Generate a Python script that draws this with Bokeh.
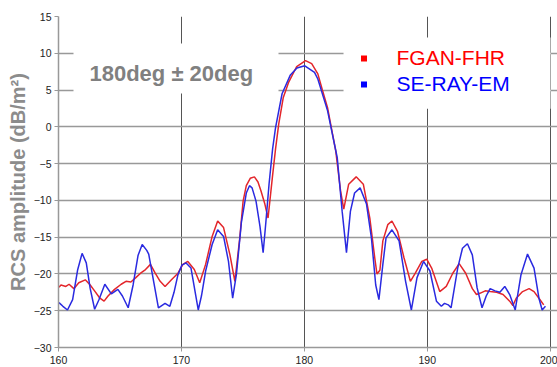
from bokeh.plotting import figure
from bokeh.models import Range1d, FixedTicker, Label, BoxAnnotation, Legend, LegendItem
from bokeh.embed import file_html
from bokeh.resources import INLINE

# ---- data ----
fgan_deg = [160.04, 160.20, 160.60, 160.86, 161.25, 161.65, 162.18, 162.58, 162.98, 163.37,
            163.71, 164.03, 164.56, 165.10, 165.49, 165.89, 166.29, 166.68, 167.08, 167.48,
            167.87, 168.27, 168.67, 169.19, 169.72, 170.12, 170.52, 171.05, 171.49, 171.97,
            172.50, 172.95, 173.43, 173.95, 174.35, 174.75, 175.02, 175.28, 175.60, 175.94,
            176.23, 176.47, 176.79, 177.05, 177.40, 177.66, 177.92, 178.29, 178.71, 179.38,
            180.10, 180.60, 181.10, 181.47, 181.89, 182.56, 182.95, 183.21, 183.61, 184.22,
            184.80, 185.33, 185.73, 185.91, 186.15, 186.39, 186.79, 187.13, 187.58, 188.11,
            188.63, 189.03, 189.56, 189.96, 190.36, 191.02, 191.55, 192.08, 192.60, 193.13,
            193.67, 194.01, 194.33, 194.72, 195.12, 195.65, 196.17, 196.71, 196.97, 197.24,
            197.76, 198.29, 198.69, 199.09, 199.48]
fgan_db = [-21.8, -21.5, -21.7, -21.4, -22.0, -21.2, -20.8, -21.5, -22.4, -23.3,
           -23.7, -23.0, -22.1, -21.4, -21.0, -21.1, -20.5, -19.9, -19.4, -18.7,
           -19.9, -21.0, -21.7, -20.8, -19.9, -18.7, -18.3, -19.4, -21.2, -18.7,
           -14.9, -12.8, -13.7, -17.4, -21.0, -15.1, -10.1, -8.0, -7.0, -6.8,
           -7.5, -8.7, -10.5, -12.4, -6.9, -3.0, 0.4, 4.0, 6.0, 8.2,
           9.0, 8.6, 7.2, 5.0, 2.6, -3.3, -8.7, -11.2, -7.8, -6.8,
           -7.8, -12.4, -17.8, -20.0, -19.5, -15.5, -13.3, -12.8, -14.2, -17.8,
           -21.0, -19.9, -18.3, -18.0, -19.2, -22.4, -21.7, -19.9, -18.6, -19.9,
           -22.0, -22.8, -22.6, -22.3, -22.4, -22.5, -22.8, -23.7, -24.3, -23.3,
           -22.4, -22.0, -22.4, -23.3, -24.2]

seray_deg = [160.04, 160.36, 160.73, 161.15, 161.55, 161.92, 162.26, 162.58, 162.94, 163.29,
             163.77, 164.30, 164.83, 165.20, 165.67, 166.07, 166.47, 166.81, 167.18, 167.34,
             167.74, 168.13, 168.67, 169.06, 169.40, 169.72, 170.04, 170.38, 170.78, 171.07,
             171.37, 171.63, 171.97, 172.50, 172.95, 173.43, 173.83, 174.17, 174.48, 174.88,
             175.28, 175.54, 175.75, 176.07, 176.39, 176.65, 176.87, 177.13, 177.42, 177.66,
             178.19, 178.85, 179.40, 180.04, 180.83, 181.10, 181.89, 182.68, 183.08, 183.43,
             183.75, 184.09, 184.54, 185.06, 185.46, 185.81, 186.07, 186.39, 186.65, 187.13,
             187.71, 188.24, 188.71, 189.17, 189.70, 190.22, 190.75, 191.15, 191.41, 191.71,
             191.94, 192.48, 192.87, 193.27, 193.67, 194.06, 194.46, 194.80, 195.12, 195.52,
             195.91, 196.31, 196.71, 197.16, 197.63, 198.16, 198.69, 199.09, 199.35, 199.62]
seray_db = [-23.9, -24.4, -24.9, -23.5, -19.5, -17.2, -18.5, -22.0, -24.8, -23.5,
            -21.4, -22.7, -22.1, -23.0, -24.6, -21.5, -17.5, -16.0, -16.8, -17.3,
            -21.0, -24.6, -24.0, -24.4, -22.5, -20.1, -18.8, -18.5, -19.2, -22.0,
            -24.9, -23.0, -19.6, -16.0, -14.0, -14.9, -18.3, -23.3, -20.0, -13.0,
            -9.0, -8.0, -8.3, -10.1, -13.5, -17.1, -13.0, -7.8, -3.0, -0.1,
            4.5, 7.0, 8.0, 8.3, 7.4, 6.5, 2.2, -4.2, -11.5, -17.1,
            -11.5, -9.0, -8.3, -10.5, -15.1, -21.5, -23.5, -18.7, -15.1, -14.0,
            -15.5, -21.0, -24.9, -20.5, -18.3, -19.6, -23.7, -24.4, -24.0, -24.2,
            -24.6, -19.2, -16.5, -15.9, -17.4, -21.9, -24.6, -23.0, -22.0, -22.3,
            -22.5, -21.7, -22.8, -24.9, -20.1, -17.3, -19.2, -23.3, -24.9, -24.4]

x_ticks = [160, 170, 180, 190, 200]
y_ticks = [-30, -25, -20, -15, -10, -5, 0, 5, 10, 15]
series_names = ["FGAN-FHR", "SE-RAY-EM"]
line_colors = ["#e3262b", "#2a2ae0"]
legend_colors = ["#ff0000", "#0000ff"]
title_text = "180deg \u00b1 20deg"
y_label = "RCS amplitude (dB/m\u00b2)"

FONT = "Liberation Sans"

p = figure(width=557, height=367, output_backend="svg", toolbar_location=None,
           x_range=Range1d(160, 200.6), y_range=Range1d(-30, 15),
           min_border_left=58, min_border_right=0, min_border_top=16, min_border_bottom=20)
p.outline_line_color = None
p.background_fill_color = "white"
p.border_fill_color = "white"

p.xaxis.ticker = FixedTicker(ticks=x_ticks)
p.yaxis.ticker = FixedTicker(ticks=y_ticks)
for ax in (p.xaxis[0], p.yaxis[0]):
    ax.axis_line_color = "#999999"
    ax.axis_line_width = 1.5
    ax.major_tick_line_color = "#999999"
    ax.major_tick_out = 4
    ax.major_tick_in = 0
    ax.minor_tick_line_color = None
    ax.major_label_text_font = FONT
    ax.major_label_text_font_size = "10.5px"
    ax.major_label_text_color = "#222222"
p.xaxis.major_label_standoff = 4
p.yaxis.major_label_standoff = 3
p.yaxis.axis_label = y_label
p.yaxis.axis_label_text_font = FONT
p.yaxis.axis_label_text_font_style = "bold"
p.yaxis.axis_label_text_font_size = "20px"
p.yaxis.axis_label_text_color = "#8c8c8c"
p.yaxis.axis_label_standoff = 2

p.xgrid.grid_line_color = "#555555"
p.xgrid.grid_line_width = 1
p.ygrid.grid_line_color = "#999999"
p.ygrid.grid_line_width = 1.5

p.line(fgan_deg, fgan_db, line_color=line_colors[0], line_width=1.5)
p.line(seray_deg, seray_db, line_color=line_colors[1], line_width=1.5)

# white boxes behind the title and legend
p.add_layout(BoxAnnotation(left=161.22, right=177.9, bottom=4.52, top=11.32,
                           fill_color="white", fill_alpha=1, line_color=None))
p.add_layout(BoxAnnotation(left=183.19, right=200.03, bottom=2.47, top=12.14,
                           fill_color="white", fill_alpha=1, line_color=None))

p.add_layout(Label(x=162.52, y=7.2, text=title_text, text_font=FONT, text_font_style="bold",
                   text_font_size="22px", text_color="#808080", text_baseline="alphabetic"))

# zero-size square markers on the series, used only for the legend swatches
key_red = p.scatter(fgan_deg, fgan_db, marker="square", size=0,
                    fill_color=legend_colors[0], line_color=None)
key_blue = p.scatter(seray_deg, seray_db, marker="square", size=0,
                     fill_color=legend_colors[1], line_color=None)

for name, rend, col, loc in [(series_names[0], key_red, legend_colors[0], (297.5, 277)),
                             (series_names[1], key_blue, legend_colors[1], (297.5, 251.5))]:
    lg = Legend(items=[LegendItem(label=name, renderers=[rend])], location=loc,
                label_text_color=col, label_text_font=FONT, label_text_font_size="21px",
                glyph_width=15, glyph_height=24, label_height=24, label_standoff=26,
                padding=0, margin=0, spacing=0, border_line_color=None,
                background_fill_alpha=0)
    p.add_layout(lg, "center")

open("out.html", "w").write(file_html(p, INLINE))
